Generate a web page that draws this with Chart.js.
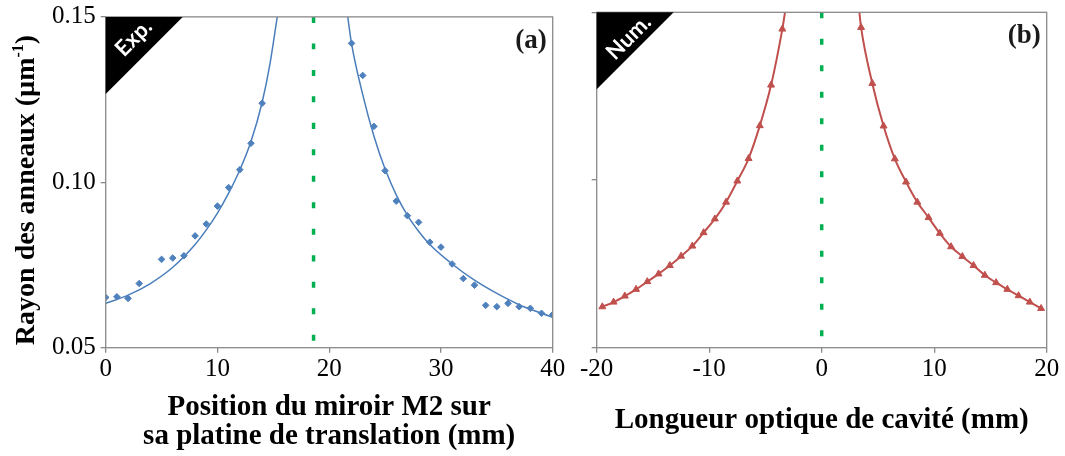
<!DOCTYPE html>
<html>
<head>
<meta charset="utf-8">
<script src="https://cdn.jsdelivr.net/npm/chart.js@4"></script>
<style>
html, body { margin: 0; padding: 0; background: #fff; }
#wrap { position: relative; width: 1065px; height: 456px; }
#boxA { position: absolute; left: 0; top: 0; width: 575px; height: 456px; }
#boxB { position: absolute; left: 575px; top: 0; width: 490px; height: 456px; }
</style>
</head>
<body>
<div id="wrap">
  <div id="boxA"><canvas id="chartA"></canvas></div>
  <div id="boxB"><canvas id="chartB"></canvas></div>
</div>
<script>
// (a) experiment: measured ring radius vs mirror position
var expX = [0, 1, 2, 3, 5, 6, 7, 8, 9, 10, 11, 12, 13, 14,
            22, 23, 24, 25, 26, 27, 28, 29, 30, 31, 32, 33, 34, 35, 36, 37, 38, 39, 40];
var expY = [0.0652, 0.0654, 0.0649, 0.0694, 0.0767, 0.0771, 0.0778, 0.0838, 0.0874, 0.0928, 0.0984, 0.1038, 0.1118, 0.1239,
            0.1420, 0.1323, 0.1169, 0.1035, 0.0943, 0.0899, 0.0879, 0.0819, 0.0804, 0.0753, 0.0709, 0.0689, 0.0628, 0.0624, 0.0634, 0.0624, 0.0619, 0.0604, 0.0600];

// fitted curve
var fitLeftX = [0, 2, 4, 6, 8, 9, 10, 11, 12, 13, 14, 14.7, 15.35];
var fitLeftY = [0.0634, 0.0659, 0.0694, 0.0743, 0.0812, 0.0856, 0.0907, 0.0967, 0.1037, 0.1123, 0.1242, 0.1358, 0.1500];
var fitRightX = [21.66, 22, 23, 24, 25, 26, 27, 28, 29, 31, 33, 35, 37, 39, 40];
var fitRightY = [0.1500, 0.1419, 0.1265, 0.1140, 0.1040, 0.0962, 0.0900, 0.0852, 0.0812, 0.0753, 0.0704, 0.0664, 0.0630, 0.0604, 0.0592];
var centerA = 18.6;

// (b) simulation vs optical cavity length
var numLeftX = [-19.5, -18.5, -17.5, -16.5, -15.5, -14.5, -13.5, -12.5, -11.5, -10.5, -9.5, -8.5, -7.5, -6.5, -5.5, -4.5, -3.5];
var numLeftY = [0.0622, 0.0636, 0.0654, 0.0674, 0.0697, 0.0720, 0.0745, 0.0773, 0.0803, 0.0843, 0.0884, 0.0934, 0.0997, 0.1064, 0.1162, 0.1283, 0.1450];
var numRightX = [3.5, 4.5, 5.5, 6.5, 7.5, 8.5, 9.5, 10.5, 11.5, 12.5, 13.5, 14.5, 15.5, 16.5, 17.5, 18.5, 19.5];
var numRightY = [0.1455, 0.1288, 0.1161, 0.1063, 0.0994, 0.0934, 0.0888, 0.0841, 0.0801, 0.0772, 0.0745, 0.0716, 0.0694, 0.0674, 0.0655, 0.0636, 0.0617];
var numTopLeft = -3.26, numTopRight = 3.35;
var centerB = 0;

var yMin = 0.05, yMax = 0.15;
var yTicks = [0.05, 0.10, 0.15];
var xTicksA = [0, 10, 20, 30, 40];
var xTicksB = [-20, -10, 0, 10, 20];

var xTitleA = ['Position du miroir M2 sur', 'sa platine de translation (mm)'];
var xTitleB = 'Longueur optique de cavité (mm)';
var yTitle = 'Rayon des anneaux (µm';
var yTitleSup = '-1';

var serif = '"Liberation Serif", "Times New Roman", serif';
var axisGrey = '#8a8a8a';

function pts(xs, ys) {
    return xs.map(function (x, i) { return { x: x, y: ys[i] }; });
}

function frame(corner, tag, cx, cy) {
    return {
        id: 'frame',
        afterDatasetsDraw: function (chart) {
            var a = chart.chartArea, c = chart.ctx;
            c.save();
            c.strokeStyle = axisGrey;
            c.lineWidth = 1.3;
            c.strokeRect(a.left, a.top, a.right - a.left, a.bottom - a.top);
            c.fillStyle = '#000';
            c.beginPath();
            c.moveTo(a.left, a.top);
            c.lineTo(a.left + 77, a.top);
            c.lineTo(a.left, a.top + 77);
            c.closePath();
            c.fill();
            c.translate(a.left + cx, a.top + cy);
            c.rotate(-Math.PI / 4);
            c.fillStyle = '#fff';
            c.font = 'bold 22px Lato, "Open Sans", sans-serif';
            c.textAlign = 'center';
            c.textBaseline = 'middle';
            c.fillText(corner, 0, 0);
            c.restore();

            c.save();
            c.font = 'bold 27px ' + serif;
            c.fillStyle = '#1a1a1a';
            c.textAlign = 'right';
            c.textBaseline = 'alphabetic';
            c.fillText(tag, a.right - 6, a.top + 31);
            c.restore();
        }
    };
}

var yTitlePlugin = {
    id: 'ytitle',
    afterDraw: function (chart) {
        var c = chart.ctx;
        var big = 'bold 28px ' + serif, small = 'bold 16px ' + serif;
        c.save();
        c.fillStyle = '#000';
        c.font = big;
        var w1 = c.measureText(yTitle).width, w3 = c.measureText(')').width;
        c.font = small;
        var w2 = c.measureText(yTitleSup).width;
        var total = w1 + w2 + w3;
        c.translate(33.5, 190 + total / 2);
        c.rotate(-Math.PI / 2);
        c.textAlign = 'left';
        c.textBaseline = 'alphabetic';
        c.font = big;
        c.fillText(yTitle, 0, 0);
        c.font = small;
        c.fillText(yTitleSup, w1, -11);
        c.font = big;
        c.fillText(')', w1 + w2, 0);
        c.restore();
    }
};

function xScale(min, max, ticks, title, titleBottom) {
    return {
        type: 'linear',
        min: min,
        max: max,
        afterBuildTicks: function (s) { s.ticks = ticks.map(function (v) { return { value: v }; }); },
        afterFit: function (s) { s.height = 456 - 347.7; },
        grid: { drawOnChartArea: false, color: axisGrey, lineWidth: 1.3, tickLength: 5 },
        border: { display: false },
        ticks: {
            color: '#000', padding: 5, maxRotation: 0, autoSkip: false,
            font: { family: serif, size: 25, lineHeight: 0.95 },
            callback: function (v) { return String(v); }
        },
        title: {
            display: true, text: title, color: '#000',
            font: { family: serif, size: 29, weight: 'bold', lineHeight: 1 },
            padding: { top: 0, bottom: titleBottom }
        }
    };
}

function yScale(width, showLabels) {
    return {
        type: 'linear',
        min: yMin,
        max: yMax,
        afterBuildTicks: function (s) { s.ticks = yTicks.map(function (v) { return { value: v }; }); },
        afterFit: function (s) { s.width = width; },
        grid: { drawOnChartArea: false, color: axisGrey, lineWidth: 1.3, tickLength: 5 },
        border: { display: false },
        ticks: {
            display: showLabels, color: '#000', padding: 5,
            font: { family: serif, size: 25, lineHeight: 0.95 },
            callback: function (v) { return v.toFixed(2); }
        }
    };
}

var commonOpts = {
    responsive: true,
    maintainAspectRatio: false,
    animation: false,
    plugins: { legend: { display: false }, tooltip: { enabled: false } }
};

new Chart(document.getElementById('chartA'), {
    type: 'scatter',
    data: {
        datasets: [
            { data: pts(expX, expY), pointStyle: 'rectRot', pointRadius: 3.3, borderWidth: 1,
              backgroundColor: '#4F81BD', borderColor: '#4F81BD' },
            { data: pts(fitLeftX, fitLeftY), showLine: true, pointRadius: 0, borderWidth: 1.5,
              borderColor: '#4A7EBB', cubicInterpolationMode: 'monotone' },
            { data: pts(fitRightX, fitRightY), showLine: true, pointRadius: 0, borderWidth: 1.5,
              borderColor: '#4A7EBB', cubicInterpolationMode: 'monotone' },
            { data: [{ x: centerA, y: yMax }, { x: centerA, y: yMin }], showLine: true, pointRadius: 0,
              borderWidth: 3.5, borderColor: '#00B050', borderDash: [6, 20.5] }
        ]
    },
    options: Object.assign({}, commonOpts, {
        layout: { padding: { left: 0, right: 575 - 552.7, top: 12.3, bottom: 0 } },
        scales: {
            x: xScale(0, 40, xTicksA, xTitleA, 4.5),
            y: yScale(105.7, true)
        }
    }),
    plugins: [frame('Exp.', '(a)', 28, 21), yTitlePlugin]
});

new Chart(document.getElementById('chartB'), {
    type: 'scatter',
    data: {
        datasets: [
            { data: pts(numLeftX, numLeftY).concat(pts(numRightX, numRightY)), pointStyle: 'triangle',
              pointRadius: 4, borderWidth: 1, backgroundColor: '#C0504D', borderColor: '#C0504D' },
            { data: pts(numLeftX.concat([numTopLeft]), numLeftY.concat([yMax])), showLine: true, pointRadius: 0,
              borderWidth: 2, borderColor: '#C0504D', cubicInterpolationMode: 'monotone' },
            { data: pts([numTopRight].concat(numRightX), [yMax].concat(numRightY)), showLine: true, pointRadius: 0,
              borderWidth: 2, borderColor: '#C0504D', cubicInterpolationMode: 'monotone' },
            { data: [{ x: centerB, y: yMax }, { x: centerB, y: yMin }], showLine: true, pointRadius: 0,
              borderWidth: 3.5, borderColor: '#00B050', borderDash: [6, 20.5] }
        ]
    },
    options: Object.assign({}, commonOpts, {
        layout: { padding: { left: 0, right: 490 - (1046.7 - 575), top: 12.3, bottom: 0 } },
        scales: {
            x: xScale(-20, 20, xTicksB, xTitleB, 21),
            y: yScale(596.7 - 575, false)
        }
    }),
    plugins: [frame('Num.', '(b)', 32, 25)]
});
</script>
</body>
</html>
